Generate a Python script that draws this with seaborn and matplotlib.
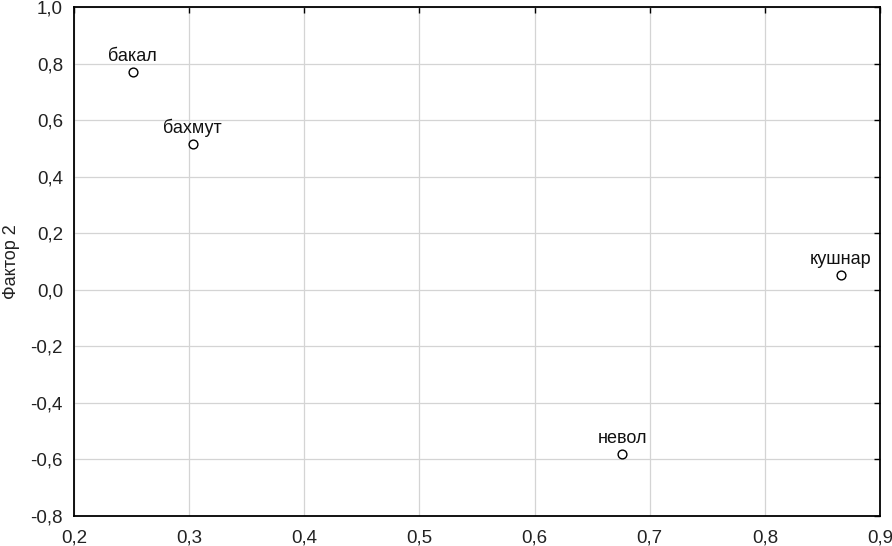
"""
Factor scatter: Фактор 1 vs Фактор 2 with point labels
"""

import pandas as pd
import matplotlib.pyplot as plt
import seaborn as sns
from matplotlib.ticker import FuncFormatter, MultipleLocator

# Data
names = ["бакал", "бахмут", "кушнар", "невол"]
factor1 = [0.251, 0.303, 0.866, 0.676]
factor2 = [0.770, 0.515, 0.052, -0.582]

sns.set_style("white")
plt.rcParams['font.family'] = ['Liberation Sans', 'DejaVu Sans']

df = pd.DataFrame({"name": names, "f1": factor1, "f2": factor2})


def comma_fmt(v, pos):
    return f"{v:.1f}".replace(".", ",").replace("\u2212", "-")


fig = plt.figure(figsize=(8.92, 5.46), dpi=100)
ax = fig.add_axes([0.083, 0.0555, 0.9035, 0.9317])

sns.scatterplot(data=df, x="f1", y="f2", ax=ax, s=40, marker="o",
                facecolor="white", edgecolor="black", linewidth=1.0, zorder=3)

# labels above points
for _, row in df.iterrows():
    ax.annotate(row["name"], (row["f1"], row["f2"]), xytext=(0, 5),
                textcoords="offset points", ha="center", va="bottom",
                fontsize=13, color="#111111", zorder=4)

ax.set_xlim(0.2, 0.9)
ax.set_ylim(-0.8, 1.0)
ax.xaxis.set_major_locator(MultipleLocator(0.1))
ax.yaxis.set_major_locator(MultipleLocator(0.2))
ax.xaxis.set_major_formatter(FuncFormatter(comma_fmt))
ax.yaxis.set_major_formatter(FuncFormatter(comma_fmt))

ax.grid(True, color="#d4d4d4", linewidth=0.9)
ax.set_axisbelow(True)
for sp in ax.spines.values():
    sp.set_visible(True)
    sp.set_color("black")
    sp.set_linewidth(1.3)

ax.tick_params(direction="in", length=4, width=1, colors="black",
               top=True, right=True, labelsize=13.5, labelcolor="#222222")
ax.tick_params(axis="y", pad=8)
ax.tick_params(axis="x", pad=10)

ax.set_xlabel("")
ax.set_ylabel("Фактор 2", fontsize=13, color="#222222", va="center")
ax.yaxis.set_label_coords(-0.077, 0.5)

fig.savefig("out.png", dpi=100)
plt.close()
